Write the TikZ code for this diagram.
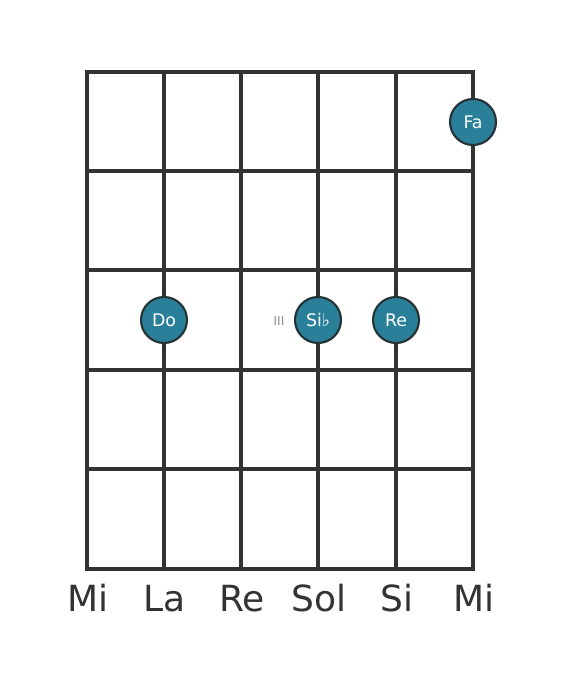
\documentclass[tikz,border=0pt]{standalone}
\usepackage{fontspec}
\setmainfont{DejaVu Sans}
\definecolor{gridc}{HTML}{333333}
\definecolor{notefill}{HTML}{2A7F99}
\definecolor{noteedge}{HTML}{263238}
\definecolor{romanc}{HTML}{8A8A8A}
\tikzset{
  px/.style={x=0.75pt,y=-0.75pt},
  stringline/.style={draw=gridc,line width=2.4pt},
  fretline/.style={draw=gridc,line width=2.6pt},
  nutline/.style={draw=gridc,line width=3.4pt},
  note/.style={circle,fill=notefill,draw=noteedge,line width=1.6pt,minimum size=34.5pt,inner sep=0pt,text=white,font=\fontsize{13}{15}\selectfont},
  strlabel/.style={text=gridc,font=\fontsize{27}{30}\selectfont,anchor=base},
  roman/.style={text=romanc,font=\fontsize{9}{10}\selectfont}
}
\begin{document}
\begin{tikzpicture}[px]
\useasboundingbox[fill=white] (0,0) rectangle (568,682);
% strings
\foreach \x/\n in {87/s1,164/s2,241/s3,318/s4,396/s5,473/s6}{
  \coordinate (\n t) at (\x,72);
  \coordinate (\n b) at (\x,569);
  \draw[stringline] (\n t) -- (\n b);
}
% frets
\foreach \y/\n in {171/f1,270/f2,370/f3,469/f4}{
  \coordinate (\n l) at (87,\y);
  \coordinate (\n r) at (473,\y);
  \draw[fretline] (\n l) -- (\n r);
}
\draw[nutline,line cap=rect] (s1t) -- (s6t);
\draw[nutline,line cap=rect] (s1b) -- (s6b);
% notes
\node[note] (fa) at (473,122) {Fa};
\node[note] (do) at (164,320) {Do};
\node[note] (sib) at (318,320) {Si♭};
\node[note] (re) at (396,320) {Re};
\node[roman] (pos) at (279,321) {III};
% string labels
\foreach \x/\t/\n in {87/Mi/l1,164/La/l2,241/Re/l3,318/Sol/l4,396/Si/l5,473/Mi/l6}{
  \node[strlabel] (\n) at (\x+1,611) {\t};
}
\end{tikzpicture}
\end{document}
